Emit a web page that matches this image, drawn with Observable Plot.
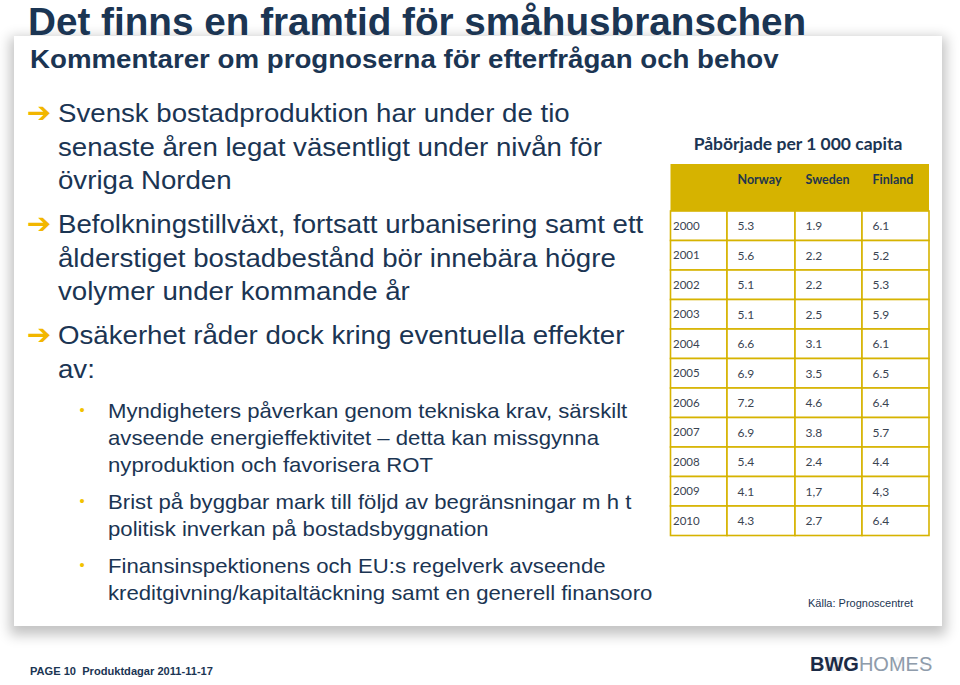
<!DOCTYPE html>
<html><head><meta charset="utf-8">
<script src="https://cdn.jsdelivr.net/npm/d3@7"></script>
<script src="https://cdn.jsdelivr.net/npm/@observablehq/plot@0.6"></script>
<style>
body{margin:0;background:#fff;}
#slide{position:relative;width:960px;height:685px;overflow:hidden;font-family:"Liberation Sans",Arial,sans-serif;color:#1b3553;}
.abs{position:absolute;white-space:nowrap;transform-origin:left top;}
#panel{position:absolute;left:14px;top:36px;width:928px;height:590px;background:#fff;box-shadow:0 5px 12px 4px rgba(0,0,0,0.24);}
#title{left:28px;top:0px;font-size:38.7px;font-weight:bold;line-height:44px;}
#subtitle{left:30px;top:42.5px;font-size:26px;font-weight:bold;line-height:32px;transform:scaleX(1.064);}
.p{left:58px;font-size:26.5px;line-height:33.5px;transform:scaleX(1.043);}
.arrow{position:absolute;left:-30px;top:-1px;color:#f2b600;font-family:"DejaVu Sans",sans-serif;font-size:28px;font-weight:bold;}
.s{left:108px;font-size:21px;line-height:27px;transform:scaleX(1.055);}
.dot{position:absolute;left:-27px;top:0;color:#f2c200;font-size:14px;}
#ttitle{left:660px;width:276px;text-align:center;top:133px;font-family:Lato,sans-serif;font-weight:bold;font-size:17.5px;}
#source{left:808px;top:597px;font-size:11px;}
#footer{left:30px;top:665px;font-size:11.1px;font-weight:bold;}
#logo{left:810px;top:653px;font-family:"Liberation Sans",sans-serif;font-size:20px;line-height:22px;}
#logo b{color:#1b2a45;}
#logo span{color:#8f9cab;font-weight:normal;}
#logoref{left:810px;top:675px;font-family:"Liberation Sans",sans-serif;font-size:20px;line-height:22px;transform:scaleY(-1);transform-origin:left top;opacity:0.12;}
#logoref b{color:#1b2a45;}
#logoref span{color:#8f9cab;font-weight:normal;}
</style></head>
<body>
<div id="slide">
  <div id="panel"></div>
  <div class="abs" id="title">Det finns en framtid för småhusbranschen</div>
  <div class="abs" id="subtitle">Kommentarer om prognoserna för efterfrågan och behov</div>
  <div class="abs p" style="top:97px"><span class="arrow">➔</span>Svensk bostadproduktion har under de tio<br>senaste åren legat väsentligt under nivån för<br>övriga Norden</div>
  <div class="abs p" style="top:208px"><span class="arrow">➔</span>Befolkningstillväxt, fortsatt urbanisering samt ett<br>ålderstiget bostadbestånd bör innebära högre<br>volymer under kommande år</div>
  <div class="abs p" style="top:319px"><span class="arrow">➔</span>Osäkerhet råder dock kring eventuella effekter<br>av:</div>
  <div class="abs s" style="top:397px"><span class="dot">•</span>Myndigheters påverkan genom tekniska krav, särskilt<br>avseende energieffektivitet – detta kan missgynna<br>nyproduktion och favorisera ROT</div>
  <div class="abs s" style="top:488px"><span class="dot">•</span>Brist på byggbar mark till följd av begränsningar m h t<br>politisk inverkan på bostadsbyggnation</div>
  <div class="abs s" style="top:552px"><span class="dot">•</span>Finansinspektionens och EU:s regelverk avseende<br>kreditgivning/kapitaltäckning samt en generell finansoro</div>
  <div class="abs" id="ttitle">Påbörjade per 1 000 capita</div>
  <div class="abs" id="source">Källa: Prognoscentret</div>
  <div class="abs" id="footer">PAGE 10&nbsp; Produktdagar 2011-11-17</div>
  <div class="abs" id="logo"><b>BWG</b><span>HOMES</span></div>
  <div class="abs" id="logoref"><b>BWG</b><span>HOMES</span></div>
</div>
<script>
const years = ["2000","2001","2002","2003","2004","2005","2006","2007","2008","2009","2010"];
const columns = ["", "Norway", "Sweden", "Finland"];
const norway = ["5.3","5.6","5.1","5.1","6.6","6.9","7.2","6.9","5.4","4.1","4.3"];
const sweden = ["1.9","2.2","2.2","2.5","3.1","3.5","4.6","3.8","2.4","1,7","2.7"];
const finland = ["6.1","5.2","5.3","5.9","6.1","6.5","6.4","5.7","4.4","4,3","6.4"];

const series = [years, norway, sweden, finland];
const cells = [];
years.forEach((y, r) => {
  series.forEach((s, c) => cells.push({row: r + 1, col: c, label: s[r]}));
});
const gold = "#d6b300";

const chart = Plot.plot({
  width: 960,
  height: 685,
  margin: 0,
  x: {type: "linear", domain: [0, 1, 2, 3, 4], range: [670.5, 727, 795, 862, 929], axis: null},
  y: {type: "linear", domain: [0, 1, 12], range: [164, 211, 535.5], axis: null},
  style: {background: "transparent", fontFamily: "Lato, sans-serif", position: "absolute", left: "0px", top: "0px"},
  marks: [
    Plot.rect(columns, {x1: (d, i) => i, x2: (d, i) => i + 1, y1: () => 0, y2: () => 1, fill: gold}),
    Plot.rect(cells, {x1: "col", x2: d => d.col + 1, y1: "row", y2: d => d.row + 1, fill: "white", stroke: gold, strokeWidth: 1.6}),
    Plot.text(columns.slice(1), {x: (d, i) => i + 1, y: () => 0, dy: 15, dx: 10, text: d => d, textAnchor: "start", lineAnchor: "middle", fontWeight: "bold", fontSize: 12.5, fill: "#23364d"}),
    Plot.text(cells.filter(d => d.col === 0), {x: "col", y: d => d.row + 0.5, text: "label", dx: 2, textAnchor: "start", lineAnchor: "middle", fontSize: 11.5, fill: "#3a4452"}),
    Plot.text(cells.filter(d => d.col > 0), {x: "col", y: d => d.row + 0.5, text: "label", dx: 10, textAnchor: "start", lineAnchor: "middle", fontSize: 12, fill: "#3a4452"})
  ]
});
document.getElementById("slide").appendChild(chart);
</script>
</body></html>
